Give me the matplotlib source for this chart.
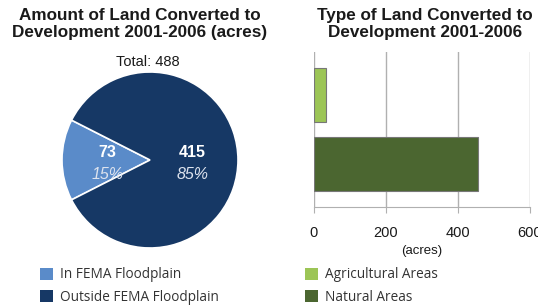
import numpy as np
import matplotlib
matplotlib.use("Agg")
import matplotlib.pyplot as plt
from matplotlib.patches import Patch

# pie data
flood_labels = ["In FEMA Floodplain", "Outside FEMA Floodplain"]
flood_acres = [73, 415]
flood_colors = ["#5a8bc9", "#163865"]

# bar data
land_types = ["Natural Areas", "Agricultural Areas"]
land_acres = [455, 33]
land_colors = ["#4b6630", "#9cc556"]
bar_ticks = [0, 200, 400, 600]

W, H = 538, 305
fig = plt.figure(figsize=(W / 100, H / 100), dpi=100)
plt.rcParams['font.family'] = ['Liberation Sans', 'DejaVu Sans']

# ---- pie ----
cx, cy, r = 150, 160, 88
ax_pie = fig.add_axes([(cx - r) / W, (H - cy - r) / H, 2 * r / W, 2 * r / H])
total = sum(flood_acres)
start = 180 - flood_acres[0] / total * 360 / 2
wedges, _ = ax_pie.pie(flood_acres, colors=flood_colors, startangle=start,
                       wedgeprops=dict(edgecolor="white", linewidth=1.2))
ax_pie.set_xlim(-1, 1)
ax_pie.set_ylim(-1, 1)
ax_pie.set_aspect("auto")
ax_pie.axis("off")
for w, v in zip(wedges, flood_acres):
    mid = np.deg2rad((w.theta1 + w.theta2) / 2)
    x, y = 0.485 * np.cos(mid), 0.485 * np.sin(mid)
    ax_pie.text(x, y + 0.09, str(v), color="white", fontsize=11.5, fontweight="bold",
                ha="center", va="center")
    ax_pie.text(x, y - 0.17, f"{v / total * 100:.0f}%", color="#dde3ee", fontsize=11.5,
                style="italic", ha="center", va="center")

fig.text(140 / W, 1 - 24 / H, "Amount of Land Converted to\nDevelopment 2001-2006 (acres)",
         ha="center", va="center", fontsize=12.3, fontweight="bold", color="#1a1a1a",
         linespacing=1.12)
fig.text(148 / W, 1 - 62 / H, "Total: 488", ha="center", va="center", fontsize=10.5,
         color="#1a1a1a")

# ---- bars ----
ax_bar = fig.add_axes([314 / W, (H - 207) / H, (530 - 314) / W, 155 / H])
ax_bar.barh(range(len(land_types)), land_acres, height=0.77, color=land_colors,
            edgecolor="#777777", linewidth=0.8, zorder=3)
ax_bar.set_xlim(0, 600)
ax_bar.set_ylim(-0.62, 1.62)
ax_bar.set_xticks(bar_ticks)
ax_bar.set_yticks([])
ax_bar.grid(axis="x", color="#b0b0b0", linewidth=1, zorder=0)
for s in ["top", "right", "left"]:
    ax_bar.spines[s].set_visible(False)
ax_bar.spines["bottom"].set_color("#b0b0b0")
ax_bar.tick_params(axis="x", length=4, color="#b0b0b0", labelsize=10.5, pad=10,
                   labelcolor="#1a1a1a")
ax_bar.set_xlabel("(acres)", fontsize=9.5, color="#1a1a1a", labelpad=3)

fig.text(425 / W, 1 - 24 / H, "Type of Land Converted to\nDevelopment 2001-2006",
         ha="center", va="center", fontsize=12.3, fontweight="bold", color="#1a1a1a",
         linespacing=1.12)

# ---- legends ----
leg_font = dict(family=["Open Sans", "DejaVu Sans"], size=9.8)
h1 = [Patch(facecolor=c, edgecolor="none") for c in flood_colors]
fig.legend(h1, flood_labels, loc="upper left", bbox_to_anchor=(35 / W, 1 - 262 / H),
           frameon=False, prop=leg_font, handlelength=0.95, handleheight=1.0,
           handletextpad=0.5, labelspacing=0.55, borderaxespad=0,
           labelcolor="#333333")
h2 = [Patch(facecolor=c, edgecolor="none") for c in land_colors[::-1]]
fig.legend(h2, land_types[::-1], loc="upper left", bbox_to_anchor=(300 / W, 1 - 262 / H),
           frameon=False, prop=leg_font, handlelength=0.95, handleheight=1.0,
           handletextpad=0.5, labelspacing=0.55, borderaxespad=0,
           labelcolor="#333333")

fig.savefig("out.png", dpi=100)
